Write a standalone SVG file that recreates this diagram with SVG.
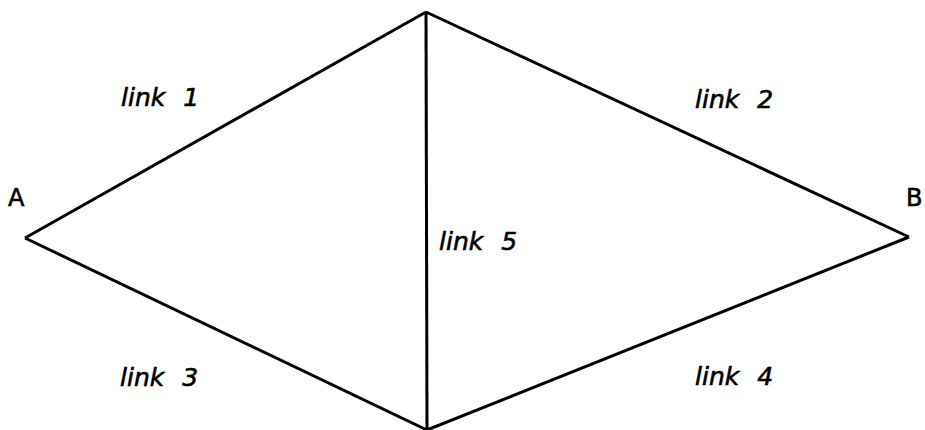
<svg xmlns="http://www.w3.org/2000/svg" width="925" height="430" viewBox="0 0 925 430">
<style>
.edge{stroke:#000;stroke-width:3;fill:none;stroke-linejoin:miter}
.lbl{font-family:"DejaVu Sans",sans-serif;font-size:25px;font-style:italic;fill:#000;stroke:#000;stroke-width:0.6;word-spacing:10px}
.node{font-family:"DejaVu Sans",sans-serif;font-size:24px;fill:#000;stroke:#000;stroke-width:0.6}
</style>
<rect width="925" height="430" fill="#fff"/>
<g id="connectors">
<line class="edge" x1="25" y1="238" x2="426" y2="12"/>
<line class="edge" x1="426" y1="12" x2="909" y2="237"/>
<line class="edge" x1="25" y1="238" x2="427" y2="430"/>
<line class="edge" x1="427" y1="430" x2="909" y2="237"/>
<line class="edge" x1="426" y1="12" x2="427" y2="430"/>
<text class="lbl" x="121" y="106">link 1</text>
<text class="lbl" x="695" y="108">link 2</text>
<text class="lbl" x="120" y="386">link 3</text>
<text class="lbl" x="695" y="385">link 4</text>
<text class="lbl" x="439" y="250">link 5</text>
</g>
<g id="A"><text class="node" x="8" y="206">A</text></g>
<g id="B"><text class="node" x="906" y="206">B</text></g>
</svg>
